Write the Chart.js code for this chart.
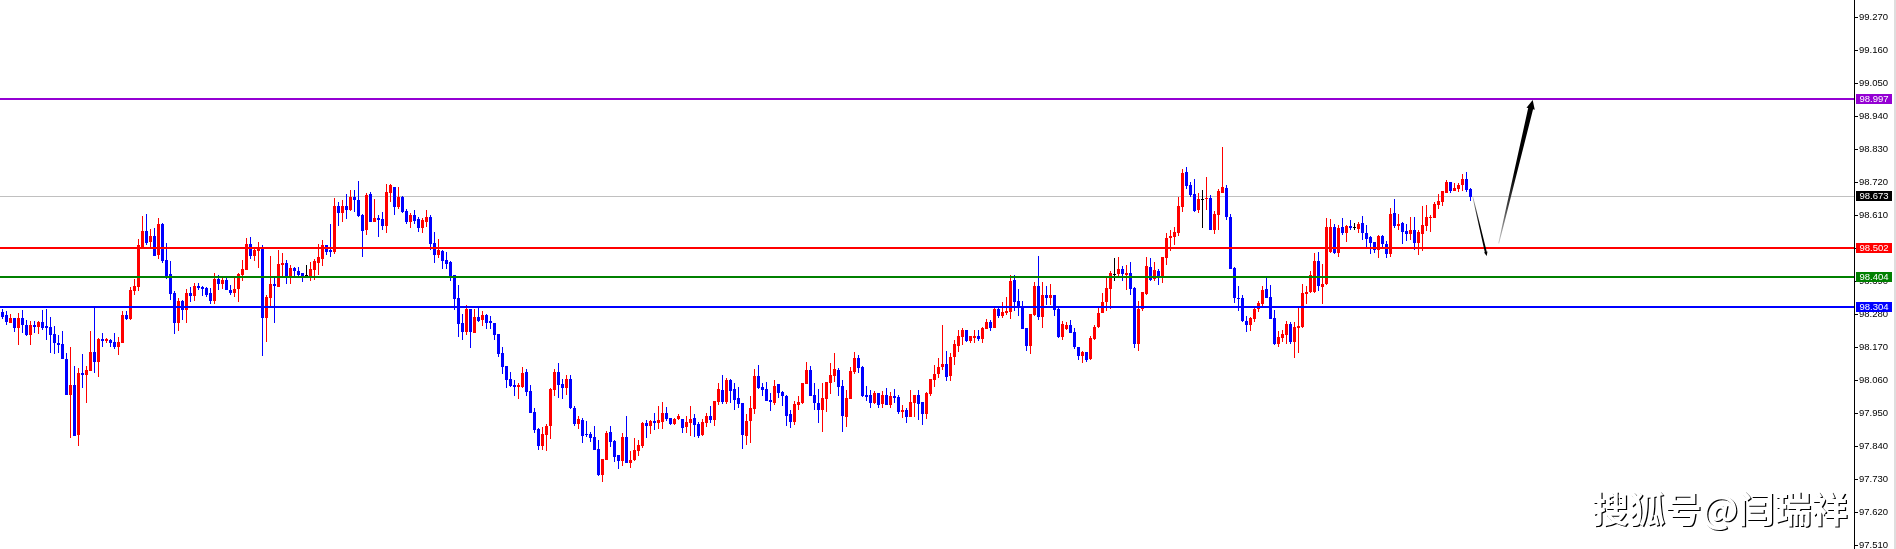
<!DOCTYPE html>
<html>
<head>
<meta charset="utf-8">
<title>USD Index</title>
<script src="https://cdn.jsdelivr.net/npm/chart.js@4/dist/chart.umd.min.js"></script>
<style>
html, body { margin: 0; padding: 0; background: #fff; overflow: hidden; }
canvas { display: block; }
</style>
</head>
<body>
<canvas id="ChartForPrice" width="1896" height="549"></canvas>
<script>
var highs = [
98.297,98.291,98.281,98.268,98.284,98.294,98.261,98.258,98.258,98.258,
98.294,98.297,98.271,98.241,98.211,98.224,98.151,98.171,98.108,98.101,
98.148,98.108,98.224,98.304,98.201,98.218,98.201,98.198,98.218,98.204,
98.291,98.291,98.371,98.398,98.531,98.608,98.614,98.564,98.568,98.601,
98.584,98.518,98.458,98.358,98.334,98.328,98.364,98.371,98.384,98.384,
98.374,98.371,98.368,98.418,98.411,98.401,98.401,98.378,98.404,98.418,
98.461,98.534,98.538,98.501,98.521,98.511,98.344,98.474,98.404,98.494,
98.484,98.461,98.444,98.438,98.438,98.418,98.444,98.454,98.464,98.514,
98.528,98.511,98.581,98.668,98.654,98.661,98.681,98.694,98.694,98.724,
98.614,98.684,98.688,98.664,98.611,98.621,98.714,98.714,98.704,98.704,
98.674,98.631,98.618,98.628,98.604,98.601,98.628,98.611,98.554,98.531,
98.494,98.488,98.458,98.411,98.378,98.281,98.311,98.298,98.298,98.304,
98.291,98.281,98.274,98.251,98.214,98.171,98.108,98.088,98.061,98.051,
98.104,98.098,98.044,97.968,97.901,97.904,97.914,98.034,98.098,98.118,
98.064,98.078,98.078,97.974,97.941,97.934,97.924,97.888,97.908,97.861,
97.797,97.891,97.907,97.861,97.811,97.884,97.941,97.824,97.867,97.861,
97.921,97.927,97.927,97.951,97.974,97.987,97.971,97.934,97.934,97.947,
97.931,97.941,97.974,97.947,97.921,97.931,97.951,97.974,97.991,98.051,
98.077,98.067,98.064,98.051,98.037,97.984,97.947,98.007,98.097,98.111,
98.051,98.054,98.017,98.061,98.047,98.024,98.011,97.961,97.991,98.007,
98.051,98.121,98.107,98.051,98.031,98.051,98.054,98.117,98.151,98.101,
98.061,98.027,98.104,98.154,98.144,98.107,98.041,98.027,98.024,98.017,
98.024,98.034,98.021,98.031,98.011,97.977,97.967,98.027,98.010,98.027,
97.987,98.020,98.064,98.110,98.134,98.244,98.157,98.150,98.194,98.227,
98.234,98.227,98.207,98.227,98.227,98.237,98.264,98.260,98.300,98.300,
98.320,98.337,98.410,98.410,98.364,98.324,98.234,98.280,98.387,98.474,
98.387,98.374,98.380,98.344,98.300,98.257,98.254,98.260,98.234,98.170,
98.157,98.154,98.207,98.244,98.300,98.350,98.404,98.424,98.467,98.470,
98.440,98.444,98.454,98.370,98.324,98.354,98.470,98.467,98.454,98.430,
98.470,98.551,98.561,98.571,98.671,98.764,98.771,98.721,98.731,98.684,
98.694,98.738,98.678,98.624,98.698,98.838,98.711,98.614,98.438,98.374,
98.344,98.274,98.271,98.301,98.324,98.374,98.404,98.378,98.294,98.224,
98.228,98.258,98.254,98.254,98.308,98.381,98.374,98.424,98.484,98.488,
98.448,98.601,98.598,98.581,98.578,98.601,98.578,98.594,98.584,98.588,
98.608,98.578,98.541,98.521,98.544,98.544,98.524,98.634,98.664,98.614,
98.588,98.581,98.604,98.604,98.561,98.641,98.644,98.611,98.654,98.681,
98.691,98.728,98.721,98.718,98.718,98.748,98.754,98.701
];
var lows = [
98.265,98.245,98.251,98.221,98.178,98.218,98.208,98.178,98.218,98.214,
98.228,98.194,98.151,98.148,98.151,98.131,98.011,97.868,97.874,97.841,
98.034,97.984,98.091,98.084,98.071,98.171,98.184,98.171,98.164,98.144,
98.184,98.261,98.261,98.344,98.358,98.504,98.511,98.498,98.474,98.464,
98.451,98.398,98.328,98.214,98.224,98.261,98.251,98.321,98.324,98.361,
98.341,98.338,98.314,98.314,98.361,98.364,98.361,98.344,98.338,98.321,
98.391,98.428,98.464,98.458,98.434,98.141,98.188,98.308,98.251,98.371,
98.408,98.381,98.381,98.408,98.401,98.388,98.404,98.391,98.394,98.411,
98.441,98.478,98.471,98.481,98.574,98.588,98.598,98.624,98.621,98.604,
98.471,98.544,98.588,98.588,98.538,98.561,98.551,98.654,98.611,98.631,
98.618,98.581,98.568,98.581,98.554,98.551,98.571,98.494,98.451,98.468,
98.431,98.431,98.391,98.294,98.204,98.194,98.211,98.168,98.218,98.254,
98.241,98.231,98.231,98.194,98.138,98.081,98.034,98.038,98.008,97.998,
98.034,98.008,97.951,97.884,97.828,97.828,97.824,97.864,98.008,98.001,
97.998,98.011,97.964,97.908,97.898,97.851,97.871,97.854,97.828,97.741,
97.721,97.794,97.837,97.787,97.764,97.774,97.784,97.767,97.791,97.807,
97.834,97.867,97.881,97.894,97.897,97.897,97.924,97.911,97.911,97.927,
97.884,97.884,97.874,97.871,97.867,97.874,97.904,97.917,97.907,97.977,
97.981,97.981,97.984,97.961,97.967,97.831,97.844,97.851,97.947,98.031,
98.007,97.991,97.957,97.977,98.001,97.974,97.907,97.901,97.911,97.961,
97.981,98.047,98.007,97.961,97.917,97.887,97.954,98.014,98.054,98.007,
97.887,97.904,97.997,98.081,98.084,98.004,97.991,97.967,97.981,97.967,
97.967,97.977,97.967,97.984,97.947,97.934,97.917,97.937,97.937,97.927,
97.910,97.930,98.007,98.037,98.067,98.094,98.057,98.057,98.110,98.154,
98.177,98.187,98.184,98.184,98.190,98.184,98.230,98.224,98.234,98.267,
98.267,98.277,98.264,98.290,98.274,98.230,98.157,98.147,98.274,98.260,
98.234,98.310,98.310,98.274,98.200,98.194,98.227,98.217,98.164,98.127,
98.117,98.120,98.127,98.194,98.234,98.284,98.290,98.297,98.390,98.407,
98.390,98.360,98.344,98.167,98.157,98.290,98.344,98.390,98.390,98.377,
98.384,98.444,98.491,98.511,98.541,98.621,98.698,98.671,98.621,98.618,
98.568,98.628,98.561,98.548,98.561,98.684,98.594,98.431,98.318,98.291,
98.254,98.221,98.224,98.254,98.288,98.308,98.334,98.264,98.178,98.171,
98.188,98.181,98.181,98.134,98.151,98.234,98.314,98.351,98.351,98.358,
98.314,98.378,98.484,98.481,98.471,98.544,98.521,98.561,98.561,98.551,
98.528,98.498,98.481,98.484,98.468,98.498,98.468,98.471,98.568,98.561,
98.514,98.524,98.528,98.494,98.478,98.491,98.558,98.554,98.601,98.631,
98.641,98.684,98.684,98.691,98.688,98.691,98.688,98.658
];
var opens = [
98.287,98.278,98.251,98.268,98.234,98.268,98.244,98.211,98.244,98.238,
98.254,98.241,98.238,98.214,98.184,98.181,98.131,98.011,98.044,97.878,
98.084,98.078,98.091,98.154,98.121,98.198,98.191,98.194,98.188,98.171,
98.184,98.278,98.264,98.358,98.371,98.504,98.558,98.521,98.541,98.478,
98.581,98.461,98.414,98.351,98.251,98.324,98.294,98.351,98.341,98.374,
98.371,98.368,98.351,98.324,98.398,98.381,98.394,98.361,98.351,98.364,
98.411,98.428,98.514,98.474,98.491,98.504,98.268,98.334,98.381,98.371,
98.444,98.451,98.408,98.434,98.424,98.418,98.410,98.404,98.428,98.451,
98.464,98.511,98.494,98.488,98.641,98.618,98.641,98.628,98.671,98.661,
98.611,98.561,98.681,98.588,98.601,98.598,98.574,98.684,98.704,98.638,
98.671,98.624,98.588,98.611,98.598,98.568,98.588,98.604,98.518,98.478,
98.491,98.461,98.454,98.411,98.334,98.251,98.221,98.298,98.218,98.271,
98.261,98.278,98.258,98.251,98.214,98.151,98.108,98.064,98.044,98.038,
98.038,98.088,98.024,97.954,97.898,97.841,97.878,97.908,98.028,98.088,
98.048,98.034,98.064,97.968,97.914,97.928,97.881,97.881,97.871,97.831,
97.744,97.794,97.887,97.857,97.811,97.791,97.871,97.784,97.794,97.824,
97.841,97.917,97.907,97.924,97.917,97.921,97.951,97.934,97.914,97.931,
97.931,97.904,97.917,97.934,97.914,97.877,97.917,97.941,97.927,97.987,
98.027,97.987,98.061,98.031,98.001,97.984,97.874,97.924,97.964,98.074,
98.037,98.031,97.994,97.984,98.047,98.021,98.007,97.947,97.921,97.977,
97.984,98.047,98.094,98.011,97.984,97.961,97.997,98.051,98.074,98.094,
98.041,97.937,97.997,98.087,98.134,98.104,98.011,98.011,97.984,98.017,
97.981,98.011,97.977,98.007,98.004,97.954,97.960,97.937,97.984,98.010,
97.987,97.947,98.014,98.060,98.080,98.104,98.114,98.074,98.137,98.174,
98.204,98.227,98.190,98.200,98.207,98.197,98.230,98.254,98.234,98.297,
98.274,98.284,98.287,98.394,98.324,98.304,98.234,98.174,98.277,98.374,
98.270,98.344,98.334,98.344,98.297,98.204,98.230,98.244,98.220,98.170,
98.140,98.154,98.130,98.197,98.237,98.284,98.320,98.364,98.413,98.414,
98.430,98.410,98.417,98.367,98.180,98.297,98.347,98.437,98.397,98.424,
98.407,98.468,98.534,98.538,98.551,98.638,98.754,98.711,98.681,98.628,
98.663,98.664,98.668,98.561,98.611,98.684,98.701,98.604,98.434,98.334,
98.334,98.258,98.244,98.264,98.298,98.314,98.364,98.338,98.268,98.181,
98.201,98.211,98.248,98.188,98.234,98.238,98.348,98.354,98.354,98.458,
98.371,98.381,98.488,98.571,98.484,98.571,98.551,98.574,98.570,98.564,
98.584,98.551,98.538,98.521,98.494,98.541,98.514,98.481,98.618,98.574,
98.584,98.558,98.548,98.561,98.518,98.548,98.574,98.601,98.601,98.644,
98.654,98.684,98.721,98.691,98.698,98.711,98.731,98.698
];
var closes = [
98.271,98.254,98.268,98.234,98.268,98.244,98.211,98.244,98.238,98.254,
98.234,98.234,98.211,98.184,98.178,98.131,98.011,98.044,97.874,98.084,
98.078,98.094,98.154,98.121,98.198,98.191,98.198,98.184,98.171,98.188,
98.278,98.264,98.361,98.374,98.511,98.558,98.518,98.541,98.474,98.581,
98.458,98.404,98.348,98.251,98.324,98.294,98.351,98.341,98.374,98.368,
98.364,98.344,98.324,98.398,98.381,98.394,98.361,98.351,98.364,98.414,
98.431,98.514,98.474,98.494,98.504,98.268,98.338,98.381,98.374,98.448,
98.451,98.408,98.434,98.424,98.411,98.404,98.410,98.431,98.458,98.471,
98.511,98.488,98.488,98.641,98.618,98.641,98.628,98.671,98.661,98.608,
98.558,98.678,98.588,98.601,98.594,98.574,98.688,98.711,98.638,98.671,
98.621,98.588,98.611,98.591,98.568,98.594,98.604,98.514,98.478,98.494,
98.458,98.448,98.408,98.331,98.248,98.221,98.298,98.221,98.271,98.258,
98.278,98.251,98.251,98.211,98.148,98.104,98.061,98.041,98.038,98.044,
98.084,98.021,97.951,97.894,97.841,97.881,97.908,98.031,98.088,98.044,
98.034,98.064,97.968,97.914,97.931,97.874,97.878,97.868,97.828,97.744,
97.797,97.884,97.854,97.804,97.791,97.871,97.784,97.794,97.827,97.844,
97.917,97.907,97.924,97.917,97.927,97.951,97.931,97.914,97.931,97.941,
97.901,97.921,97.931,97.911,97.874,97.921,97.941,97.927,97.991,98.031,
97.987,98.061,98.024,97.994,97.981,97.877,97.924,97.967,98.074,98.034,
98.027,97.991,97.987,98.041,98.017,98.007,97.941,97.921,97.981,97.987,
98.051,98.094,98.007,97.984,97.961,98.001,98.054,98.077,98.097,98.037,
97.941,98.001,98.091,98.134,98.101,98.007,98.004,97.984,98.017,97.977,
98.011,97.977,98.007,98.001,97.954,97.960,97.937,97.987,98.010,97.980,
97.947,98.017,98.064,98.080,98.104,98.114,98.070,98.137,98.180,98.207,
98.227,98.190,98.207,98.207,98.197,98.234,98.254,98.234,98.297,98.274,
98.287,98.290,98.390,98.320,98.304,98.230,98.174,98.280,98.374,98.270,
98.344,98.334,98.344,98.294,98.204,98.247,98.244,98.217,98.170,98.140,
98.154,98.127,98.200,98.237,98.284,98.320,98.367,98.417,98.413,98.430,
98.414,98.417,98.364,98.180,98.297,98.354,98.440,98.394,98.427,98.407,
98.470,98.534,98.541,98.554,98.641,98.751,98.708,98.678,98.624,98.664,
98.663,98.668,98.561,98.614,98.691,98.704,98.604,98.431,98.334,98.331,
98.258,98.244,98.268,98.298,98.318,98.361,98.334,98.264,98.181,98.204,
98.214,98.248,98.188,98.238,98.241,98.351,98.354,98.411,98.458,98.374,
98.381,98.571,98.571,98.484,98.568,98.551,98.574,98.568,98.570,98.581,
98.551,98.531,98.518,98.494,98.541,98.514,98.481,98.614,98.574,98.581,
98.554,98.548,98.561,98.518,98.554,98.578,98.604,98.604,98.648,98.658,
98.691,98.721,98.691,98.701,98.711,98.731,98.694,98.671
];

var tickValues = [97.51,97.62,97.73,97.84,97.95,98.06,98.17,98.28,98.39,98.5,98.61,98.72,98.83,98.94,99.05,99.16,99.27];
var levelValues = [98.997,98.502,98.404,98.304];
var levelColors = ['#9400d3','#ff0000','#008000','#0000ff'];
var lastPrice = 98.673;

// drawn forecast arrows, candle number and price of both ends
var arrowFromIndex = [367.55,374.05];
var arrowFromPrice = [98.672,98.516];
var arrowToIndex = [371.05,382.55];
var arrowToPrice = [98.474,98.994];

var watermark = '搜狐号@闫瑞祥';

function candleColor(i) {
    if (closes[i] > opens[i]) return '#ff0000';
    if (closes[i] < opens[i]) return '#0000ff';
    return '#000000';
}

var wickData = [], bodyData = [], colors = [];
for (var i = 0; i < opens.length; i++) {
    wickData.push({ x: i, y: [lows[i], highs[i]] });
    bodyData.push({ x: i, y: [opens[i], closes[i]] });
    colors.push(candleColor(i));
}

function drawTag(ctx, y, text, color) {
    ctx.fillStyle = color;
    ctx.fillRect(1856, y - 5, 36, 10);
    ctx.fillStyle = '#ffffff';
    ctx.font = '9.5px "Liberation Sans"';
    ctx.textAlign = 'center';
    ctx.textBaseline = 'middle';
    ctx.fillText(text, 1874, y + 0.5);
}

function drawArrow(ctx, x1, y1, x2, y2, shaftWidth, headWidth, headLength) {
    var len = Math.sqrt((x2 - x1) * (x2 - x1) + (y2 - y1) * (y2 - y1));
    var ux = (x2 - x1) / len, uy = (y2 - y1) / len;
    var nx = -uy, ny = ux;
    var bx = x2 - ux * headLength, by = y2 - uy * headLength;
    var grad = ctx.createLinearGradient(x1, y1, x2, y2);
    grad.addColorStop(0, '#cccccc');
    grad.addColorStop(0.25, '#444444');
    grad.addColorStop(0.5, '#000000');
    grad.addColorStop(1, '#000000');
    ctx.fillStyle = grad;
    ctx.beginPath();
    ctx.moveTo(x1 + nx * 0.4, y1 + ny * 0.4);
    ctx.lineTo(bx + nx * shaftWidth / 2, by + ny * shaftWidth / 2);
    ctx.lineTo(bx + nx * headWidth / 2, by + ny * headWidth / 2);
    ctx.lineTo(x2, y2);
    ctx.lineTo(bx - nx * headWidth / 2, by - ny * headWidth / 2);
    ctx.lineTo(bx - nx * shaftWidth / 2, by - ny * shaftWidth / 2);
    ctx.lineTo(x1 - nx * 0.4, y1 - ny * 0.4);
    ctx.closePath();
    ctx.fill();
}

var overlayPlugin = {
    id: 'overlay',
    afterDatasetsUpdate: function (chart) {
        // snap the bars on whole pixels, the terminal draws them crisp
        chart.data.datasets.forEach(function (ds, d) {
            chart.getDatasetMeta(d).data.forEach(function (el) {
                el.y = Math.round(el.y);
                el.base = Math.round(el.base);
                if (el.y === el.base) el.base = el.y + 1;
            });
        });
    },
    beforeDatasetsDraw: function (chart) {
        var ctx = chart.ctx, yScale = chart.scales.y, area = chart.chartArea;
        var y = Math.round(yScale.getPixelForValue(lastPrice));
        ctx.fillStyle = '#c0c0c0';
        ctx.fillRect(area.left, y, area.right - area.left, 1);
    },
    afterDraw: function (chart) {
        var ctx = chart.ctx, xScale = chart.scales.x, yScale = chart.scales.y, area = chart.chartArea;
        var i;
        ctx.save();
        for (i = 0; i < levelValues.length; i++) {
            var y = Math.round(yScale.getPixelForValue(levelValues[i]));
            ctx.fillStyle = levelColors[i];
            ctx.fillRect(area.left, y - 1, area.right - area.left, 2);
        }
        drawArrow(ctx,
            xScale.getPixelForValue(arrowFromIndex[0]), yScale.getPixelForValue(arrowFromPrice[0]),
            xScale.getPixelForValue(arrowToIndex[0]), yScale.getPixelForValue(arrowToPrice[0]),
            2, 3.5, 4);
        drawArrow(ctx,
            xScale.getPixelForValue(arrowFromIndex[1]), yScale.getPixelForValue(arrowFromPrice[1]),
            xScale.getPixelForValue(arrowToIndex[1]), yScale.getPixelForValue(arrowToPrice[1]),
            5, 8.5, 9);

        drawTag(ctx, Math.round(yScale.getPixelForValue(lastPrice)), lastPrice.toFixed(3), '#000000');
        for (i = 0; i < levelValues.length; i++) {
            drawTag(ctx, Math.round(yScale.getPixelForValue(levelValues[i])), levelValues[i].toFixed(3), levelColors[i]);
        }

        ctx.font = 'bold 36.5px "Noto Sans CJK SC"';
        ctx.textAlign = 'left';
        ctx.textBaseline = 'alphabetic';
        ctx.fillStyle = '#000000';
        ctx.fillText(watermark, 1593.2, 524.2);
        ctx.fillStyle = '#ffffff';
        ctx.fillText(watermark, 1592, 523);

        ctx.fillStyle = '#dedede';
        ctx.fillRect(1894, 0, 2, 549);
        ctx.restore();
    }
};

var ctx = document.getElementById('ChartForPrice').getContext('2d');
var ChartForPrice = new Chart(ctx, {
    type: 'bar',
    data: {
        datasets: [
            { label: 'Wick', data: wickData, backgroundColor: colors, barThickness: 1, borderWidth: 0, borderSkipped: false, inflateAmount: 0, grouped: false },
            { label: 'Body', data: bodyData, backgroundColor: colors, barThickness: 3, borderWidth: 0, borderSkipped: false, inflateAmount: 0, grouped: false }
        ]
    },
    plugins: [overlayPlugin],
    options: {
        responsive: false,
        animation: false,
        devicePixelRatio: 1,
        layout: { padding: 0 },
        plugins: { legend: { display: false }, tooltip: { enabled: false } },
        scales: {
            x: {
                type: 'linear',
                display: false,
                min: -0.625,
                max: 462.875,
                offset: false
            },
            y: {
                position: 'right',
                min: 97.497,
                max: 99.327,
                grid: { drawOnChartArea: false, color: '#000000', tickLength: 4 },
                border: { color: '#000000', width: 1 },
                afterBuildTicks: function (axis) {
                    axis.ticks = tickValues.map(function (v) { return { value: v }; });
                },
                afterFit: function (axis) {
                    axis.width = 42;
                    // labels may overhang the ends, keep the plot full height
                    axis.paddingTop = 0;
                    axis.paddingBottom = 0;
                },
                ticks: {
                    autoSkip: false,
                    padding: 1,
                    color: '#000000',
                    font: { family: '"Liberation Sans"', size: 9.5 },
                    callback: function (v) { return Number(v).toFixed(3); }
                }
            }
        }
    }
});
</script>
</body>
</html>
